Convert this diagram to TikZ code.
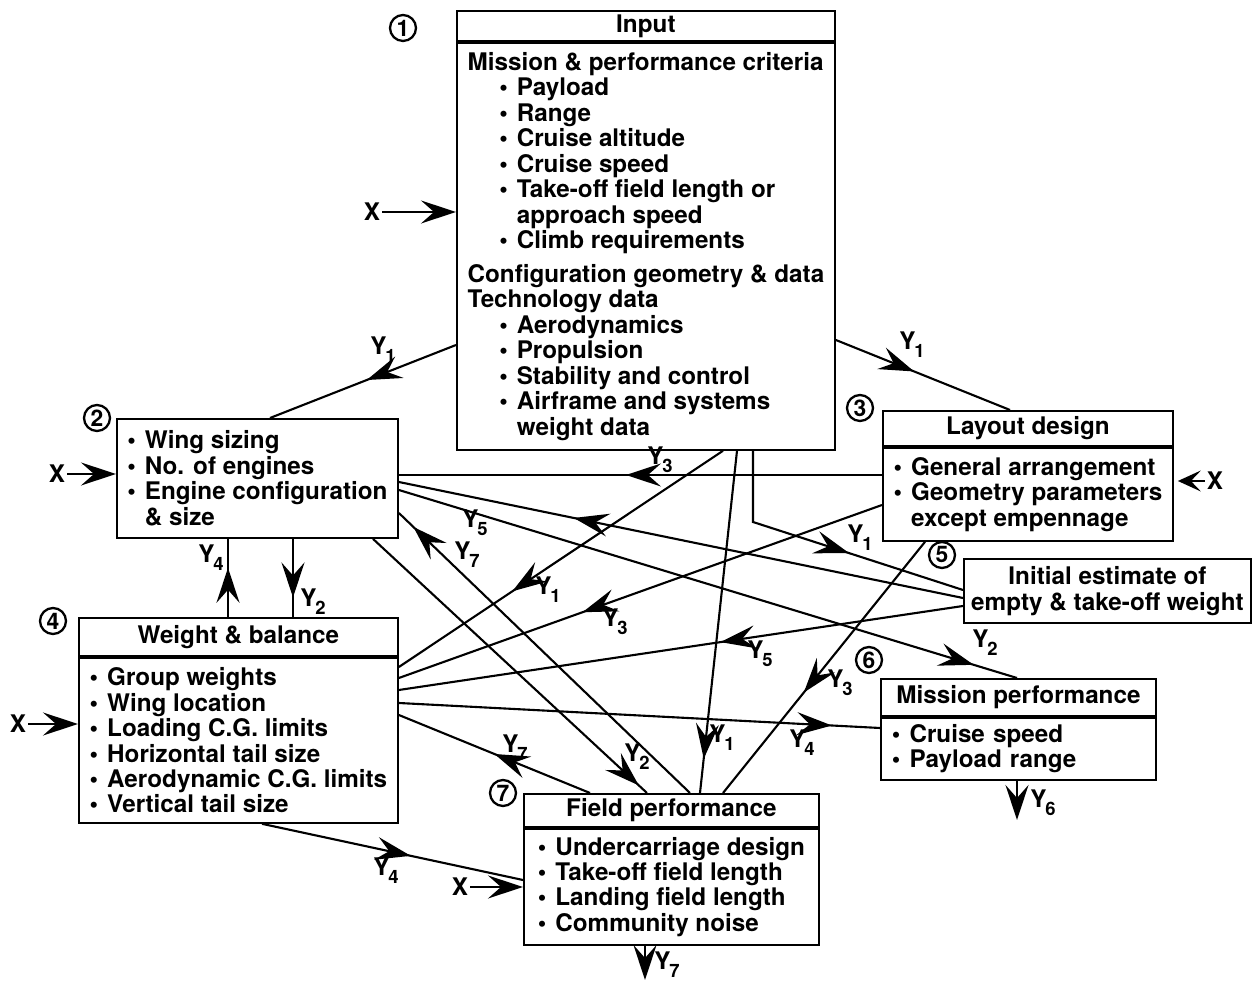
\documentclass[tikz,border=0pt]{standalone}
\usepackage{fontspec}
\setmainfont{TeX Gyre Heros}
\usetikzlibrary{positioning}
\usetikzlibrary{arrows.meta}
\usetikzlibrary{decorations.markings}

\newcommand{\ysub}[1]{Y\kern-0.8pt\raisebox{-0.6ex}{\fontsize{10.5}{10.5}\selectfont #1}}
\newcommand{\bul}{\makebox[10pt][l]{\textbullet}}
\newcommand{\ind}{\hspace*{18pt}}

\tikzset{
  head/.style={draw, line width=1.1pt, anchor=north west, inner sep=0pt, align=center},
  body/.style={draw, line width=1.1pt, inner xsep=2pt, inner ysep=0pt, align=left},
  num/.style={draw, circle, line width=1.3pt, inner sep=0pt, minimum size=0.52cm,
    font=\fontsize{13}{13}\selectfont\bfseries},
  flow/.style={line width=1.2pt},
  arrowat/.style={postaction={decorate}, decoration={markings,
    mark=at position #1 with {\arrow{Stealth[length=0.7cm,width=0.46cm,inset=0.26cm]}}}},
  inarrow/.style={line width=1.2pt, -{Stealth[length=0.7cm,width=0.46cm,inset=0.26cm]}},
  xin/.style={inner sep=1pt},
  ylab/.style={inner sep=0pt}
}

\begin{document}
\begin{tikzpicture}[x=0.02cm, y=-0.02cm, font=\fontsize{13.8}{14.5}\selectfont\bfseries]
\useasboundingbox (0,0) rectangle (1252,982);

% 1 input
\node[head, minimum width=7.56cm, minimum height=0.6cm] (t1) at (456,10) {Input};
\node[body, below=0pt of t1, minimum width=7.56cm, minimum height=8.14cm] (b1) {%
Mission \& performance criteria\\
\ind\bul Payload\\
\ind\bul Range\\
\ind\bul Cruise altitude\\
\ind\bul Cruise speed\\
\ind\bul Take-off field length or\\
\ind\hspace*{10pt}approach speed\\
\ind\bul Climb requirements\\[0.16cm]
Configuration geometry \& data\\
Technology data\\
\ind\bul Aerodynamics\\
\ind\bul Propulsion\\
\ind\bul Stability and control\\
\ind\bul Airframe and systems\\
\ind\hspace*{10pt}weight data};

% 2 wing sizing
\node[body, anchor=north west, minimum width=5.62cm, minimum height=2.38cm] (b2) at (116,418) {%
\bul Wing sizing\\
\bul No. of engines\\
\bul Engine configuration\\
\hspace*{10pt}\& size};

% 3 layout
\node[head, minimum width=5.8cm, minimum height=0.7cm] (t3) at (882,410) {Layout design};
\node[body, below=0pt of t3, minimum width=5.8cm, minimum height=1.86cm] (b3) {%
\bul General arrangement\\
\bul Geometry parameters\\
\hspace*{10pt}except empennage};

% 5 weight estimate
\node[body, anchor=north west, align=center, minimum width=5.74cm, minimum height=1.28cm] (b5) at (963,558) {%
Initial estimate of\\
empty \& take-off weight};

% 4 weight and balance
\node[head, minimum width=6.38cm, minimum height=0.76cm] (t4) at (78,617) {Weight \& balance};
\node[body, below=0pt of t4, minimum width=6.38cm, minimum height=3.3cm] (b4) {%
\bul Group weights\\
\bul Wing location\\
\bul Loading C.G. limits\\
\bul Horizontal tail size\\
\bul Aerodynamic C.G. limits\\
\bul Vertical tail size};

% 6 mission performance
\node[head, minimum width=5.5cm, minimum height=0.74cm] (t6) at (880,678) {Mission performance};
\node[body, below=0pt of t6, inner xsep=0.22cm, text width=5.06cm, minimum height=1.24cm] (b6) {%
\bul Cruise speed\\
\bul Payload range};

% 7 field performance
\node[head, minimum width=5.9cm, minimum height=0.66cm] (t7) at (523,793) {Field performance};
\node[body, below=0pt of t7, minimum width=5.9cm, minimum height=2.32cm] (b7) {%
\bul Undercarriage design\\
\bul Take-off field length\\
\bul Landing field length\\
\bul Community noise};

% circled numbers
\node[num] (n1) at (403,28) {1};
\node[num] (n2) at (97,418) {2};
\node[num] (n3) at (860,408) {3};
\node[num] (n4) at (53,621) {4};
\node[num] (n5) at (942,555) {5};
\node[num] (n6) at (869,660) {6};
\node[num] (n7) at (503,793) {7};

% outside inputs
\node[xin] (x1) at (372,212) {X};
\node[xin] (x2) at (57,474) {X};
\node[xin] (x3) at (1215,481) {X};
\node[xin] (x4) at (18,724) {X};
\node[xin] (x7) at (460,887) {X};
\draw[inarrow] (x1) -- (b1.west |- x1);
\draw[inarrow] (x2) -- (b2.west |- x2);
\draw[line width=1.2pt, -{Stealth[length=0.46cm,width=0.42cm,inset=0.2cm]}, shorten >=0.08cm] (x3) -- (b3.east |- x3);
\draw[inarrow] (x4) -- (b4.west |- x4);
\draw[inarrow] (x7) -- (b7.west |- x7);

% links between the boxes
\coordinate (elbow) at (753,522);
\draw[flow, arrowat=0.48] (b1.west |- 0,345) -- (b2.north -| 270,0);
\draw[flow, arrowat=0.45] (b1.east |- 0,340) -- (t3.north -| 1010,0);
\draw[flow, arrowat=0.53] (b3.west |- 0,475) -- (b2.east |- 0,475);
\draw[flow, arrowat=0.69] (b5.west |- 0,598) -- (b2.east |- 0,482);
\draw[flow, arrowat=0.93] (b2.east |- 0,490) -- (t6.north -| 1017,0);
\draw[flow, arrowat=0.95] (t7.north -| 690,0) -- (b2.east |- 0,513);
\draw[flow, arrowat=0.97] (b2.south -| 373,0) -- (t7.north -| 647,0);
\draw[flow, arrowat=0.63] (t4.north -| 228,0) -- (b2.south -| 228,0);
\draw[flow, arrowat=0.75] (b2.south -| 293,0) -- (t4.north -| 293,0);
\draw[flow, arrowat=0.65] (b1.south -| 723,0) -- (b4.east |- 0,667);
\draw[flow, arrowat=0.62] (b3.west |- 0,505) -- (b4.east |- 0,678);
\draw[flow, arrowat=0.43] (b5.west |- 0,606) -- (b4.east |- 0,690);
\draw[flow, arrowat=0.9] (b4.east |- 0,703) -- (b6.west |- 0,728);
\draw[flow, arrowat=0.5] (t7.north -| 590,0) -- (b4.east |- 0,715);
\draw[flow, arrowat=0.9] (b1.south -| 737,0) -- (t7.north -| 700,0);
\draw[flow, arrowat=0.6] (b3.south -| 925,0) -- (t7.north -| 723,0);
\draw[flow, arrowat=0.59] (b1.south -| 753,0) -- (elbow) -- (b5.west |- 0,590);
\draw[flow, arrowat=0.57] (b4.south -| 262,0) -- (b7.west |- 0,880);

% outputs
\coordinate (o6) at (1017,820);
\coordinate (o7) at (645,980);
\draw[inarrow] (b6.south -| o6) -- (o6);
\draw[inarrow] (b7.south -| o7) -- (o7);

% Y labels
\node[ylab] (ly1a) at (383,350) {\ysub{1}};
\node[ylab] (ly1b) at (912,345) {\ysub{1}};
\node[ylab] (ly3a) at (660,460) {\ysub{3}};
\node[ylab] (ly5a) at (475,523) {\ysub{5}};
\node[ylab] (ly2a) at (985,643) {\ysub{2}};
\node[ylab] (ly7a) at (467,555) {\ysub{7}};
\node[ylab] (ly2b) at (637,757) {\ysub{2}};
\node[ylab] (ly4a) at (211,558) {\ysub{4}};
\node[ylab] (ly2c) at (313,602) {\ysub{2}};
\node[ylab] (ly1c) at (548,590) {\ysub{1}};
\node[ylab] (ly3b) at (615,622) {\ysub{3}};
\node[ylab] (ly5b) at (760,654) {\ysub{5}};
\node[ylab] (ly4b) at (802,743) {\ysub{4}};
\node[ylab] (ly7b) at (515,748) {\ysub{7}};
\node[ylab] (ly1d) at (722,738) {\ysub{1}};
\node[ylab] (ly3c) at (840,683) {\ysub{3}};
\node[ylab] (ly1e) at (860,538) {\ysub{1}};
\node[ylab] (ly4c) at (386,871) {\ysub{4}};
\node[ylab] (ly6) at (1043,803) {\ysub{6}};
\node[ylab] (ly7c) at (667,965) {\ysub{7}};
\end{tikzpicture}
\end{document}
